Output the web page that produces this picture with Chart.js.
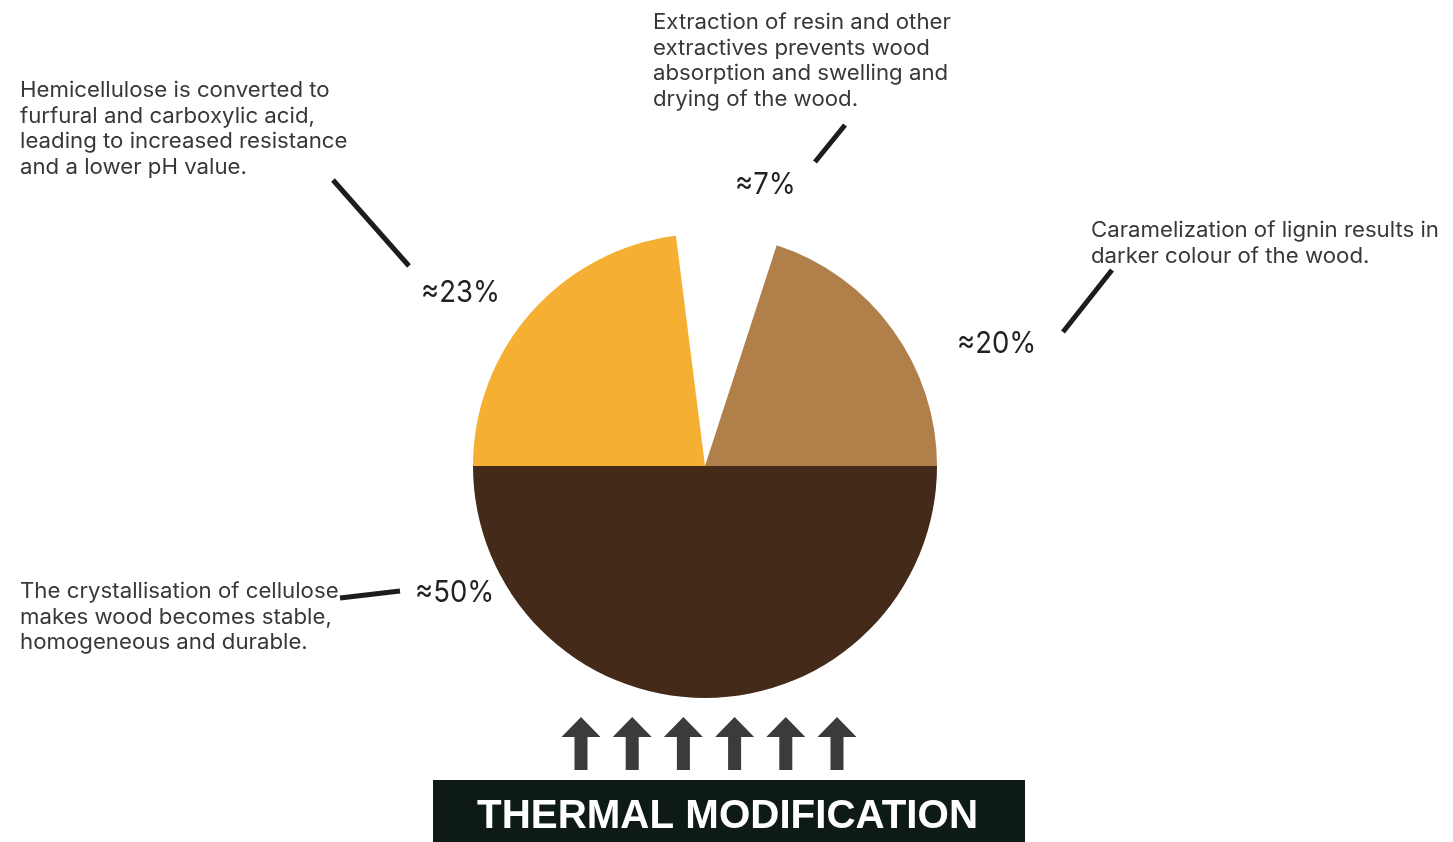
<!doctype html>
<html lang="en">
<head>
<meta charset="utf-8">
<script src="https://cdn.jsdelivr.net/npm/chart.js"></script>
<style>
  html, body { margin: 0; padding: 0; background: #ffffff; }
  #wood-chart { display: block; }
</style>
</head>
<body>
<canvas id="wood-chart" width="1453" height="842"></canvas>

<script>
/*--------- data ---------*/
var categories = ['Hemicellulose', 'Extractives', 'Lignin', 'Cellulose'];
var shares = [23, 7, 20, 50];
var sliceColors = ['#f5b034', 'rgba(255,255,255,0)', '#b07f4a', '#432a19'];

var notes = [
  ['Hemicellulose is converted to', 'furfural and carboxylic acid,', 'leading to increased resistance', 'and a lower pH value.'],
  ['Extraction of resin and other', 'extractives prevents wood', 'absorption and swelling and', 'drying of the wood.'],
  ['Caramelization of lignin results in', 'darker colour of the wood.'],
  ['The crystallisation of cellulose', 'makes wood becomes stable,', 'homogeneous and durable.']
];
var footerText = 'THERMAL MODIFICATION';
var arrowCount = 6;

/*--------- callout layout (offsets from pie centre) ---------*/
var callouts = [
  { text: [-685, -369], line: [-372, -286, -296, -200], pct: [-284, -164] },
  { text: [-52, -437],  line: [140, -341, 110, -304],   pct: [30, -272] },
  { text: [386, -229],  line: [407, -196, 358, -134],   pct: [252, -113] },
  { text: [-685, 132],  line: [-365, 132, -305, 125],   pct: [-290, 136] }
];

var TEXT_FONT = '"Inter", "Open Sans", sans-serif';

var calloutPlugin = {
  id: 'callouts',
  afterDraw: function(chart) {
    var ctx = chart.ctx;
    var arc = chart.getDatasetMeta(0).data[0];
    var cx = arc.x, cy = arc.y;

    ctx.save();
    ctx.textBaseline = 'alphabetic';
    ctx.textAlign = 'left';

    // paragraph text, squeezed so the widest line is ~348px
    ctx.font = '400 21px ' + TEXT_FONT;
    var sx = 348 / ctx.measureText(notes[2][0]).width;
    ctx.font = '400 30px ' + TEXT_FONT;
    var px = 79 / ctx.measureText('≈23%').width;

    callouts.forEach(function(c, i) {
      // note lines
      ctx.fillStyle = '#383838';
      ctx.font = '400 21px ' + TEXT_FONT;
      notes[i].forEach(function(line, k) {
        ctx.save();
        ctx.translate(cx + c.text[0], cy + c.text[1] + k * 25.5);
        ctx.scale(sx, 1);
        ctx.fillText(line, 0, 0);
        ctx.restore();
      });

      // leader line
      ctx.strokeStyle = '#1d1d1d';
      ctx.lineWidth = 5;
      ctx.beginPath();
      ctx.moveTo(cx + c.line[0], cy + c.line[1]);
      ctx.lineTo(cx + c.line[2], cy + c.line[3]);
      ctx.stroke();

      // percentage label from the data value
      ctx.fillStyle = '#222222';
      ctx.font = '400 30px ' + TEXT_FONT;
      ctx.save();
      ctx.translate(cx + c.pct[0], cy + c.pct[1]);
      ctx.scale(px, 1);
      ctx.fillText('≈' + shares[i] + '%', 0, 0);
      ctx.restore();
    });

    // heat arrows under the pie
    ctx.fillStyle = '#3b3b3b';
    for (var a = 0; a < arrowCount; a++) {
      var ax = cx - 124 + a * 51.2;
      var tip = cy + 251;
      ctx.beginPath();
      ctx.moveTo(ax, tip);
      ctx.lineTo(ax + 19.5, tip + 20);
      ctx.lineTo(ax + 6.5, tip + 20);
      ctx.lineTo(ax + 6.5, tip + 53);
      ctx.lineTo(ax - 6.5, tip + 53);
      ctx.lineTo(ax - 6.5, tip + 20);
      ctx.lineTo(ax - 19.5, tip + 20);
      ctx.closePath();
      ctx.fill();
    }

    // footer banner
    ctx.fillStyle = '#0e1a16';
    ctx.fillRect(cx - 272, cy + 314, 592, 62);
    ctx.fillStyle = '#ffffff';
    ctx.font = 'bold 40px "Liberation Sans", Arial, sans-serif';
    var fw = ctx.measureText(footerText).width;
    ctx.save();
    ctx.translate(cx - 228, cy + 362);
    ctx.scale(501 / fw, 1);
    ctx.fillText(footerText, 0, 0);
    ctx.restore();

    ctx.restore();
  }
};

var woodChart = new Chart(document.getElementById('wood-chart').getContext('2d'), {
  type: 'pie',
  data: {
    labels: categories,
    datasets: [{
      data: shares,
      backgroundColor: sliceColors,
      borderWidth: 0,
      hoverOffset: 0,
      offset: 0
    }]
  },
  options: {
    responsive: false,
    animation: false,
    events: [],
    rotation: -90,          // first slice starts at 9 o'clock
    layout: {
      padding: { top: 234, bottom: 144, left: 0, right: 43 }
    },
    plugins: {
      legend: { display: false },
      tooltip: { enabled: false }
    }
  },
  plugins: [calloutPlugin]
});
</script>
</body>
</html>
